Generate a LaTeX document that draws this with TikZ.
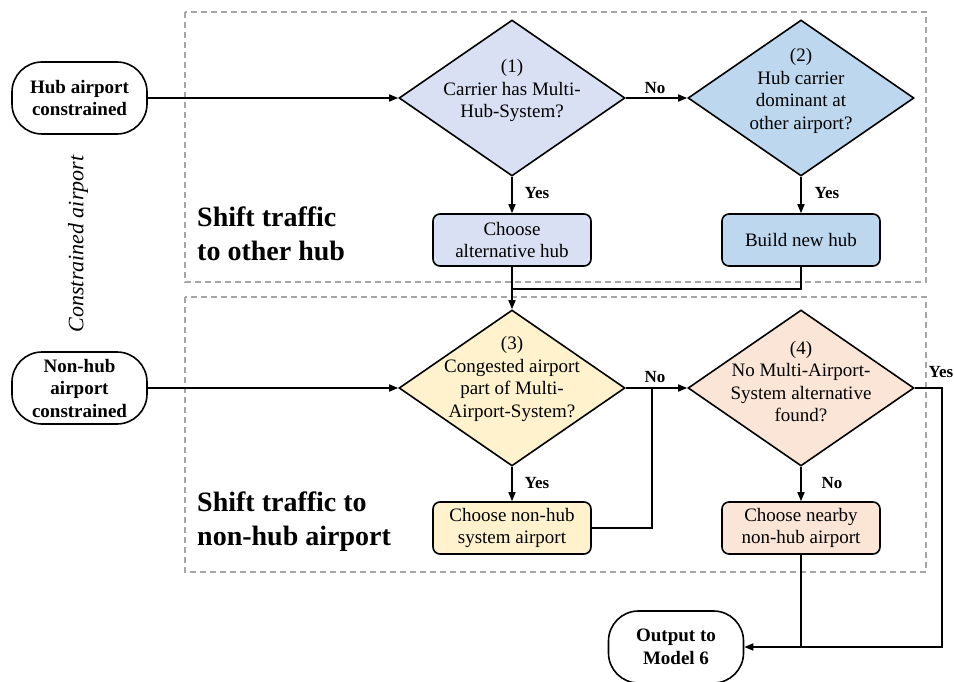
\documentclass[tikz,border=0pt]{standalone}
\usepackage{fontspec}
\setmainfont{Liberation Serif}
\usetikzlibrary{shapes.geometric,arrows.meta}
\definecolor{lavfill}{HTML}{DAE0F3}
\definecolor{bluefill}{HTML}{BDD7EE}
\definecolor{yelfill}{HTML}{FFF2CC}
\definecolor{peachfill}{HTML}{FBE5D6}
\definecolor{framegray}{HTML}{A6A6A6}
\begin{document}
\begin{tikzpicture}[x=1pt,y=-1pt,
  every node/.style={font=\fontsize{19}{22.8}\selectfont, inner sep=0pt},
  terminal/.style={draw, line width=1.6pt, rectangle, rounded corners=30pt,
    minimum width=135pt, minimum height=72pt, align=center,
    font=\bfseries\fontsize{19}{22.5}\selectfont},
  decision/.style={draw, line width=1.6pt, diamond, inner sep=0pt,
    minimum width=226pt, minimum height=156pt},
  dtext/.style={align=center, font=\fontsize{19}{22.5}\selectfont},
  process/.style={draw, line width=1.6pt, rectangle, rounded corners=7pt,
    minimum width=158pt, minimum height=52pt, align=center,
    font=\fontsize{19}{22.5}\selectfont},
  frame/.style={draw=framegray, line width=1.1pt, dash pattern=on 6pt off 4pt},
  flow/.style={line width=1.6pt, -{Triangle[length=9pt,width=7pt]}},
  link/.style={line width=1.6pt},
  lbl/.style={font=\bfseries\fontsize{17}{20}\selectfont},
  title/.style={anchor=west, align=left, font=\bfseries\fontsize{28}{34}\selectfont}
]
\useasboundingbox (0,0) rectangle (954,682);

% group frames
\draw[frame] (185,12) rectangle (926,282);
\draw[frame] (185,297) rectangle (926,572);

% side caption
\node[rotate=90, font=\itshape\fontsize{22}{26}\selectfont] (side) at (78,244) {Constrained airport};

% group titles
\node[title] (t1) at (197,234) {Shift traffic\\to other hub};
\node[title] (t2) at (197,522) {Shift traffic to\\non-hub airport};

% start and end terminals
\node[terminal] (hub) at (79.5,98) {Hub airport\\constrained};
\node[terminal] (nonhub) at (79.5,388) {Non-hub\\airport\\constrained};
\node[terminal] (out) at (676,647) {Output to\\Model 6};

% decisions
\node[decision, fill=lavfill] (d1) at (512,98) {};
\node[dtext] (d1t) at (512,90.5) {(1)\\Carrier has Multi-\\Hub-System?};
\node[decision, fill=bluefill] (d2) at (801,98) {};
\node[dtext] (d2t) at (801,91) {(2)\\Hub carrier\\dominant at\\other airport?};
\node[decision, fill=yelfill] (d3) at (512,388) {};
\node[dtext] (d3t) at (512,379) {(3)\\Congested airport\\part of Multi-\\Airport-System?};
\node[decision, fill=peachfill] (d4) at (801,388) {};
\node[dtext] (d4t) at (801,381.5) {(4)\\No Multi-Airport-\\System alternative\\found?};

% actions
\node[process, fill=lavfill] (alt) at (512,240) {Choose\\alternative hub};
\node[process, fill=bluefill] (build) at (801,240) {Build new hub};
\node[process, fill=yelfill] (sys) at (512,528) {Choose non-hub\\system airport};
\node[process, fill=peachfill] (near) at (801,528) {Choose nearby\\non-hub airport};

% junction points
\coordinate (m1) at (512,289);
\coordinate (m2) at (652,388);
\coordinate (c4) at (942,388);

% connectors
\draw[flow] (hub.east) -- (d1.west);
\draw[flow] (d1.east) -- (d2.west);
\node[lbl] (no1) at (655,88) {No};
\draw[flow] (d1.south) -- (alt.north);
\node[lbl] (yes1) at (537,193) {Yes};
\draw[flow] (d2.south) -- (build.north);
\node[lbl] (yes2) at (827,193) {Yes};
\draw[flow] (alt.south) -- (d3.north);
\draw[link] (build.south) |- (m1);

\draw[flow] (nonhub.east) -- (d3.west);
\draw[flow] (d3.east) -- (d4.west);
\node[lbl] (no2) at (655,377) {No};
\draw[flow] (d3.south) -- (sys.north);
\node[lbl] (yes3) at (537,483) {Yes};
\draw[link] (sys.east) -| (m2);
\draw[flow] (d4.south) -- (near.north);
\node[lbl] (no3) at (832,483) {No};
\draw[flow] (d4.east) -- (c4) |- (out.east);
\node[lbl] (yes4) at (941,372) {Yes};
\draw[link] (near.south) -- (near.south |- out.east);
\end{tikzpicture}
\end{document}
